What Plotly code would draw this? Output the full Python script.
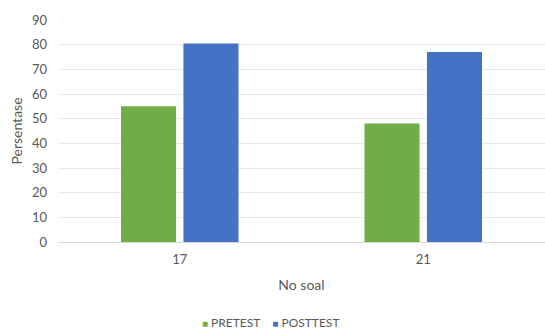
import plotly.graph_objects as go

# Question numbers and percentage scores per test
questions = ["17", "21"]
pretest = [55, 48]
posttest = [80.5, 77]
series_names = ["PRETEST", "POSTTEST"]
series_colors = ["#70AD47", "#4472C4"]

font_family = "Lato, 'Open Sans', sans-serif"
text_color = "#595959"

fig = go.Figure()
for name, vals, col in zip(series_names, [pretest, posttest], series_colors):
    fig.add_trace(go.Bar(name=name, x=questions, y=vals,
                         marker=dict(color=col, line=dict(width=0))))

# Compact legend row beneath the axis title: small square swatch + label
legend_text = "&nbsp;&nbsp;&nbsp;&nbsp;".join(
    f'<span style="color:{c};font-size:10px">■</span>&nbsp;{n}'
    for n, c in zip(series_names, series_colors)
)
fig.add_annotation(text=legend_text, xref="paper", yref="paper",
                   x=(270 - 58) / 487, y=(241.7 - 322) / 221.7,
                   xanchor="center", yanchor="middle", showarrow=False,
                   font=dict(size=12, color=text_color))

fig.update_layout(
    width=545, height=332,
    margin=dict(l=58, r=0, t=20, b=90, autoexpand=False),
    paper_bgcolor="white", plot_bgcolor="white",
    barmode="group", bargap=0.487, bargroupgap=0.118,
    font=dict(family=font_family, size=13, color=text_color),
    showlegend=False,
    xaxis=dict(type="category", showgrid=False, showline=True,
               linecolor="#D9D9D9", linewidth=1, ticks="",
               ticklabelstandoff=5,
               tickfont=dict(size=13, color=text_color),
               title=dict(text="No soal", standoff=14,
                          font=dict(size=14, color=text_color))),
    yaxis=dict(range=[0, 90], dtick=10, showgrid=True, gridcolor="#E8E8E8",
               gridwidth=1, zeroline=False, ticks="",
               tickfont=dict(size=13, color=text_color),
               ticklabelstandoff=10,
               title=dict(text="Persentase", standoff=6,
                          font=dict(size=14, color=text_color))),
)

fig.write_html("out.html")
